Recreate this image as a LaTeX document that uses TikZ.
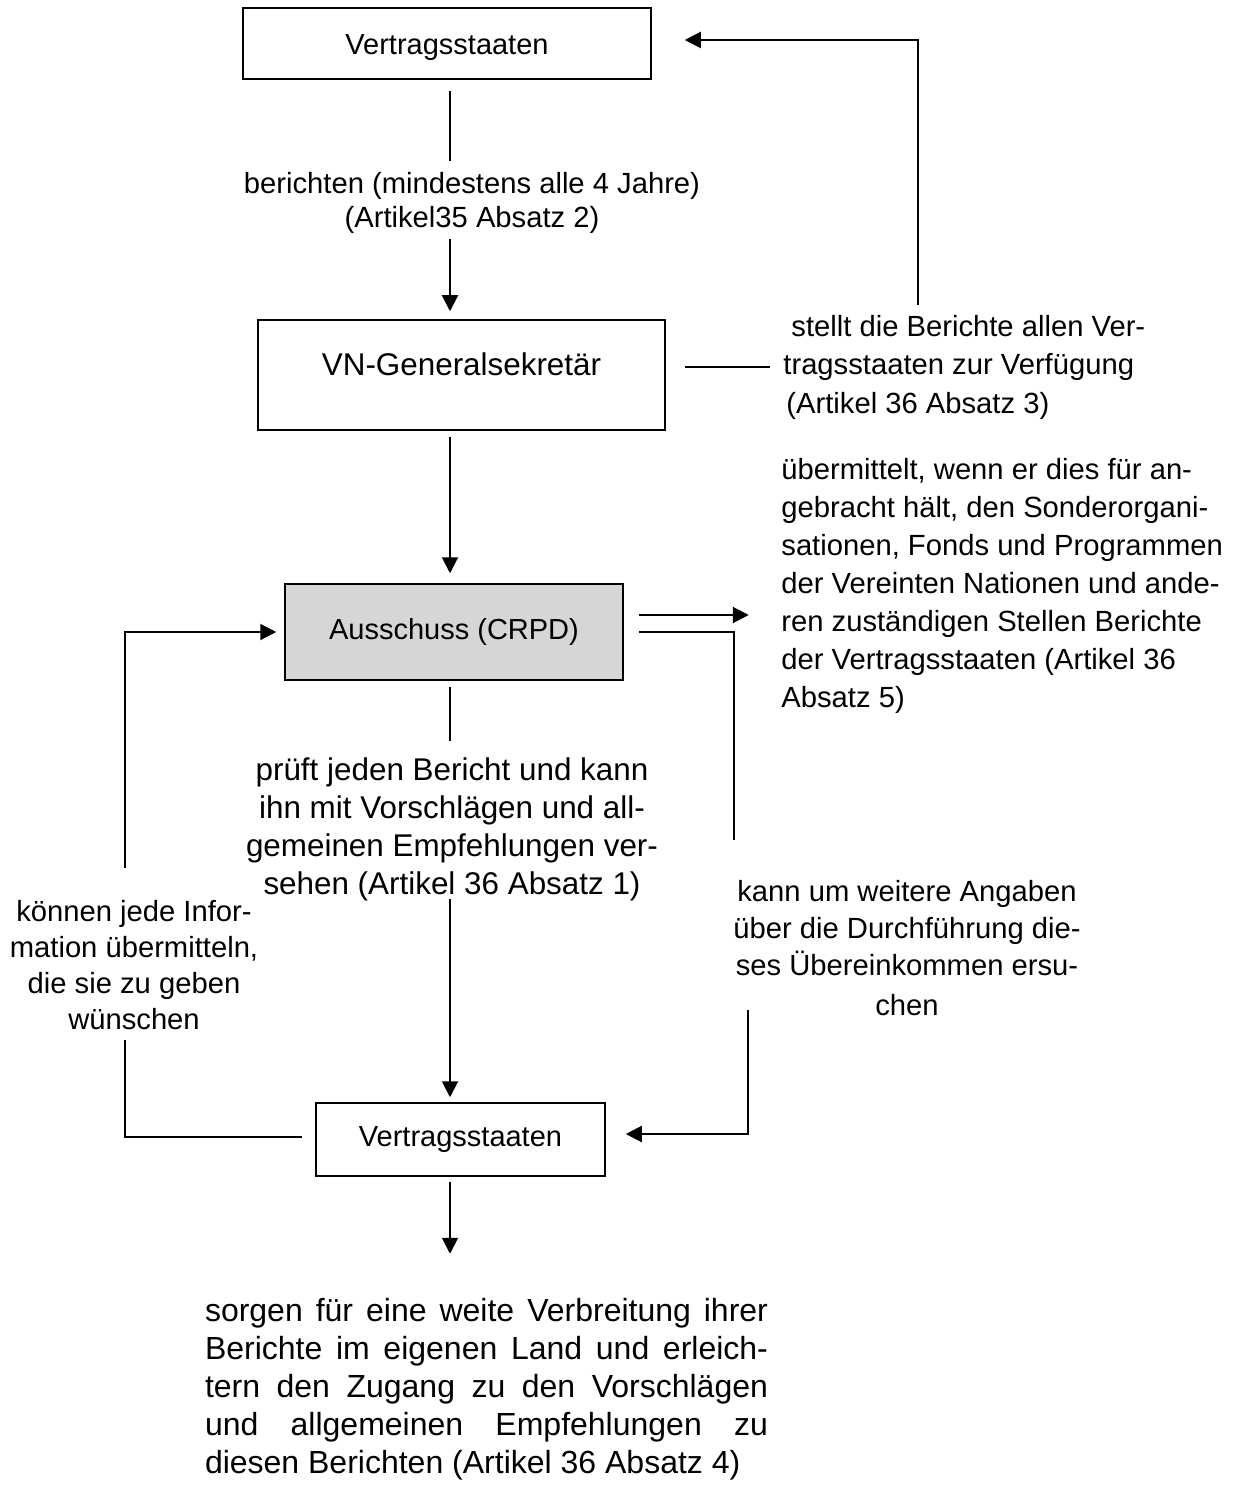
\documentclass[tikz,border=0pt]{standalone}
\usepackage{fontspec}
\setmainfont{Liberation Sans}
\usetikzlibrary{arrows.meta}
\definecolor{crpdfill}{gray}{0.84}
\newcommand{\setfs}[2]{\fontsize{#1}{#2}\selectfont}

\begin{document}
\begin{tikzpicture}[x=0.5pt,y=-0.5pt,
  box/.style={draw,line width=0.75pt,inner sep=0pt,font=\setfs{14.5pt}{17pt}},
  txt/.style={inner sep=0pt},
  conn/.style={line width=1pt},
  arr/.style={line width=1pt,-{Triangle[length=8pt,width=8pt]}},
]
\useasboundingbox (0,0) rectangle (1238,1486);

% boxes
\node[box,minimum width=204pt,minimum height=35.5pt,text height=14.5pt,text depth=3pt] (top) at (447,43.5) {Vertragsstaaten};
\node[box,minimum width=203.5pt,minimum height=55pt,font=\setfs{15.7pt}{19pt},
      text height=11.4pt,text depth=11.3pt] (gs) at (461.5,375) {VN-Generalsekretär};
\node[box,fill=crpdfill,minimum width=169pt,minimum height=48pt] (crpd) at (454,632) {Ausschuss (CRPD)};
\node[box,minimum width=144.5pt,minimum height=36.5pt] (bot) at (460.5,1139.5) {Vertragsstaaten};

% labels
\node[txt,font=\setfs{14.6pt}{17pt},align=center] (lab1) at (472,203)
  {berichten (mindestens alle 4 Jahre)\\(Artikel35 Absatz 2)};
\node[txt,font=\setfs{14.6pt}{19.25pt},align=left,anchor=west] (lab2) at (783,367)
  {\hspace*{4pt}stellt die Berichte allen Ver-\\tragsstaaten zur Verfügung\\\hspace*{1.5pt}(Artikel 36 Absatz 3)};
\node[txt,font=\setfs{14.6pt}{19pt},align=left,anchor=west] (lab3) at (781,586)
  {übermittelt, wenn er dies für an-\\gebracht hält, den Sonderorgani-\\sationen, Fonds und Programmen\\der Vereinten Nationen und ande-\\ren zuständigen Stellen Berichte\\der Vertragsstaaten (Artikel 36\\Absatz 5)};
\node[txt,font=\setfs{15.7pt}{19pt},align=center] (lab4) at (452,829)
  {prüft jeden Bericht und kann\\ihn mit Vorschlägen und all-\\gemeinen Empfehlungen ver-\\sehen (Artikel 36 Absatz 1)};
\node[txt,font=\setfs{14.6pt}{18pt},align=center] (lab5) at (134,965)
  {können jede Infor-\\mation übermitteln,\\die sie zu geben\\wünschen};
\node[txt,font=\setfs{14.6pt}{18.5pt},align=center] (lab6) at (907,948)
  {kann um weitere Angaben\\über die Durchführung die-\\ses Übereinkommen ersu-\\[1.5pt]chen};
\node[txt,font=\setfs{16pt}{19pt},align=justify,text width=281.5pt] (lab7) at (486.5,1389)
  {\hyphenpenalty=10000 sorgen für eine weite Verbreitung ihrer\linebreak
   Berichte im eigenen Land und erleich-\linebreak
   tern den Zugang zu den Vorschlägen\linebreak
   und allgemeinen Empfehlungen zu\linebreak
   diesen Berichten (Artikel 36 Absatz 4)};

% free ends of the return lines
\coordinate (retR) at (918,305);
\coordinate (crpdR) at (734,840);
\coordinate (crpdL) at (125,868);
\coordinate (botL) at (125,1040);
\coordinate (botR) at (748,1010);

% reporting chain
\draw[conn] ([shift={(3,11)}]top.south) -- ([shift={(3,81)}]top.south);
\draw[arr] ([shift={(-11.5,-80)}]gs.north) -- ([shift={(-11.5,-8)}]gs.north);
\draw[arr] ([shift={(-11.5,6)}]gs.south) -- ([shift={(-4,-10)}]crpd.north);
\draw[conn] ([shift={(-4,6)}]crpd.south) -- ([shift={(-4,60)}]crpd.south);
\draw[arr] ([shift={(-10.5,-203)}]bot.north) -- ([shift={(-10.5,-5)}]bot.north);
\draw[arr] ([shift={(-10.5,5)}]bot.south) -- ([shift={(-10.5,77)}]bot.south);

% side connections
\draw[conn] ([shift={(19,-8)}]gs.east) -- ([xshift=-6.5pt]lab2.west);
\draw[arr] (retR) |- ([shift={(33,-3.5)}]top.east);
\draw[arr] ([shift={(15,-17)}]crpd.east) -- ([shift={(125,-17)}]crpd.east);
\draw[conn] ([xshift=7.5pt]crpd.east) -| (crpdR);
\draw[arr] (crpdL) |- ([xshift=-4pt]crpd.west);
\draw[conn] (botL) |- ([shift={(-13,-2.5)}]bot.west);
\draw[arr] (botR) |- ([shift={(20,-5.5)}]bot.east);
\end{tikzpicture}
\end{document}
